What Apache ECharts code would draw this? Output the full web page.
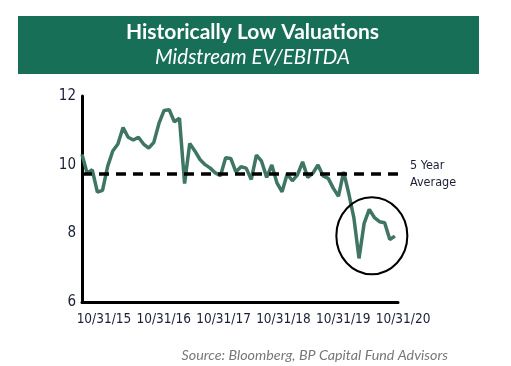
<!DOCTYPE html>
<html><head><meta charset="utf-8">
<script src="https://cdn.jsdelivr.net/npm/echarts@6/dist/echarts.min.js"></script>
<style>html,body{margin:0;padding:0;background:#fff}#c{width:511px;height:366px}</style>
</head><body><div id="c"></div>
<script>
// Monthly Midstream EV/EBITDA, starting 10/31/15
const evEbitda = [
  10.30, 9.75, 9.85, 9.20, 9.25, 9.95, 10.40, 10.60, 11.08, 10.80,
  10.72, 10.80, 10.60, 10.48, 10.65, 11.20, 11.58, 11.60, 11.25, 11.35,
  9.45, 10.62, 10.40, 10.15, 10.00, 9.90, 9.76, 9.68, 10.20, 10.18,
  9.79, 9.94, 9.90, 9.57, 10.28, 10.10, 9.63, 9.99, 9.47, 9.21,
  9.73, 9.53, 9.70, 10.08, 9.63, 9.75, 9.99, 9.67, 9.60, 9.31,
  9.08, 9.79, 9.16, 8.45, 7.27, 8.29, 8.70, 8.46, 8.34, 8.31,
  7.82, 7.92
];
const xTickLabels = ['10/31/15','10/31/16','10/31/17','10/31/18','10/31/19','10/31/20'];
const yTicks = [6, 8, 10, 12];
const fiveYearAverage = 9.73;
const averageLabel = '5 Year\nAverage';
const titleText = 'Historically Low Valuations';
const subtitleText = 'Midstream EV/EBITDA';
const sourceText = 'Source: Bloomberg, BP Capital Fund Advisors';
const highlightCenter = [56.5, 7.93];

const narrow = "'DejaVu Sans Condensed', 'Liberation Sans', sans-serif";
const labelColor = '#1a1f36';

const chart = echarts.init(document.getElementById('c'), null, {renderer: 'canvas'});
chart.setOption({
  animation: false,
  backgroundColor: '#fff',
  grid: [
    {left: 82, right: 113, top: 96, bottom: 64},
    {left: 74, width: 359, top: 96, bottom: 64}
  ],
  xAxis: [
    {gridIndex: 0, type: 'value', min: 0, max: 61.6,
     axisLine: {show: true, onZero: false, lineStyle: {color: '#000', width: 3}},
     axisTick: {show: false}, axisLabel: {show: false}, splitLine: {show: false}},
    {gridIndex: 1, type: 'category', data: xTickLabels,
     axisLine: {show: false}, axisTick: {show: false}, splitLine: {show: false},
     axisLabel: {color: labelColor, fontFamily: narrow, fontSize: 13.5, margin: 10, interval: 0}}
  ],
  yAxis: [
    {gridIndex: 0, type: 'value', min: yTicks[0], max: yTicks[yTicks.length - 1], interval: 2,
     axisLine: {show: true, lineStyle: {color: '#000', width: 3}},
     axisTick: {show: false}, splitLine: {show: false},
     axisLabel: {color: labelColor, fontFamily: narrow, fontSize: 15, margin: 6}},
    {gridIndex: 1, type: 'value', show: false}
  ],
  series: [{
    type: 'line',
    xAxisIndex: 0, yAxisIndex: 0,
    data: evEbitda.map((v, i) => [i, v]),
    symbol: 'none',
    lineStyle: {color: '#3f7563', width: 3.5},
    z: 3,
    markLine: {
      silent: true,
      symbol: 'none',
      data: [{yAxis: fiveYearAverage}],
      lineStyle: {color: '#000', width: 3.5, type: [10, 7]},
      label: {show: true, position: 'end', distance: 12, formatter: averageLabel, padding: [5, 0, 0, 0],
              color: labelColor, fontFamily: narrow, fontSize: 12.5, lineHeight: 17, align: 'left'}
    }
  }]
});

const c = chart.convertToPixel({xAxisIndex: 0, yAxisIndex: 0}, highlightCenter);
chart.setOption({
  graphic: [
    {type: 'rect', shape: {x: 18, y: 16, width: 461, height: 58}, style: {fill: '#186f57'}, z: 0},
    {type: 'text', x: 252.5, y: 32, style: {text: titleText, fill: '#fff', font: "bold 21px Lato, sans-serif", textAlign: 'center', textVerticalAlign: 'middle'}},
    {type: 'text', x: 252.5, y: 57, style: {text: subtitleText, fill: '#fff', font: "italic 20.5px Lato, sans-serif", textAlign: 'center', textVerticalAlign: 'middle'}},
    {type: 'circle', x: c[0], y: c[1], scaleX: 35.5 / 38.5, shape: {cx: 0, cy: 0, r: 38.5}, style: {fill: 'none', stroke: '#000', lineWidth: 2.2}, z: 10},
    {type: 'text', x: 448, y: 355, style: {text: sourceText, fill: '#777', font: "italic 14.3px Lato, sans-serif", textAlign: 'right', textVerticalAlign: 'middle'}}
  ]
});
</script>
</body></html>
